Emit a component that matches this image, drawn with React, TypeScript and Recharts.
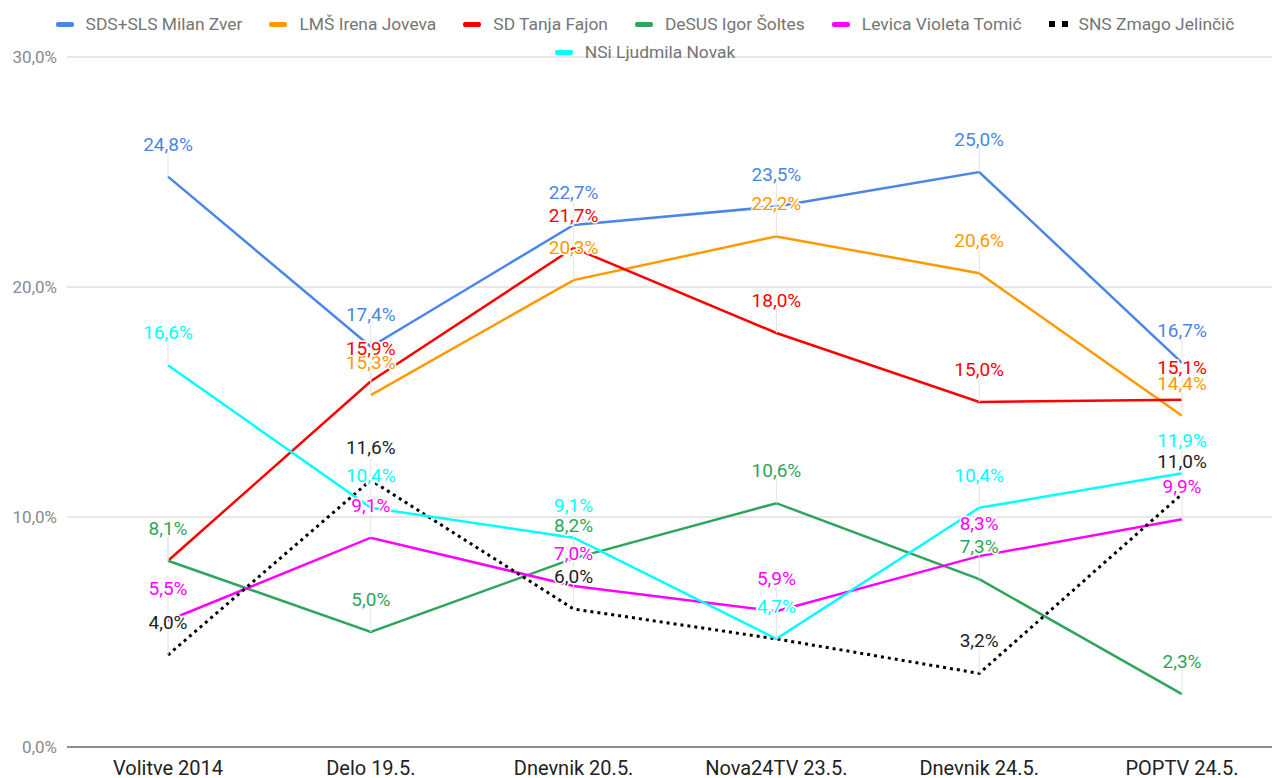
import React from 'react';
import { LineChart, Line, XAxis, YAxis, CartesianGrid, LabelList } from 'recharts';

const categories = ['Volitve 2014', 'Delo 19.5.', 'Dnevnik 20.5.', 'Nova24TV 23.5.', 'Dnevnik 24.5.', 'POPTV 24.5.'];
const sdsSls = [24.8, 17.4, 22.7, 23.5, 25.0, 16.7];
const lms = [null, 15.3, 20.3, 22.2, 20.6, 14.4];
const sd = [8.1, 15.9, 21.7, 18.0, 15.0, 15.1];
const desus = [8.1, 5.0, 8.2, 10.6, 7.3, 2.3];
const levica = [5.5, 9.1, 7.0, 5.9, 8.3, 9.9];
const sns = [4.0, 11.6, 6.0, 4.7, 3.2, 11.0];
const nsi = [16.6, 10.4, 9.1, 4.7, 10.4, 11.9];
const yTicks = [0, 10, 20, 30];

const series = [
  { key: 'sds', name: 'SDS+SLS Milan Zver', color: '#4a86e8', values: sdsSls },
  { key: 'lms', name: 'LMŠ Irena Joveva', color: '#ff9900', values: lms },
  { key: 'sd', name: 'SD Tanja Fajon', color: '#ff0000', values: sd },
  { key: 'desus', name: 'DeSUS Igor Šoltes', color: '#2ea55c', values: desus },
  { key: 'levica', name: 'Levica Violeta Tomić', color: '#ff00ff', values: levica },
  { key: 'sns', name: 'SNS Zmago Jelinčič', color: '#000000', values: sns, dotted: true },
  { key: 'nsi', name: 'NSi Ljudmila Novak', color: '#00ffff', values: nsi },
];

const data = categories.map((name, i) => {
  const row: any = { name };
  series.forEach((s) => {
    row[s.key] = s.values[i];
  });
  return row;
});

const FONT = 'Roboto, "Noto Sans", sans-serif';
const fmt = (v: number) => v.toFixed(1).replace('.', ',') + '%';

const pos = (props: any) => {
  const vb = props.viewBox || {};
  return { x: props.x ?? vb.x, y: props.y ?? vb.y };
};

// light grey stem from the label down to its point
const Stem = (props: any) => {
  const { x, y } = pos(props);
  if (props.value == null || x == null || y == null) return null;
  return <line x1={x} x2={x} y1={y - 24} y2={y} stroke="#e3e3e3" strokeWidth={1} />;
};

const makeLabel = (color: string) => (props: any) => {
  const { x, y } = pos(props);
  if (props.value == null || x == null || y == null) return null;
  return (
    <text
      x={x}
      y={y - 26}
      textAnchor="middle"
      fill={color === '#000000' ? '#222' : color}
      stroke="#fff"
      strokeWidth={3}
      paintOrder="stroke"
      style={{ fontFamily: FONT, fontSize: 19 }}
    >
      {fmt(Number(props.value))}
    </text>
  );
};

function LegendItem({ s }: { s: any }) {
  return (
    <div style={{ display: 'flex', alignItems: 'center' }}>
      {s.dotted ? (
        <div style={{ display: 'flex', width: 19, marginRight: 11 }}>
          <div style={{ width: 6, height: 6, background: '#000', marginRight: 7 }} />
          <div style={{ width: 6, height: 6, background: '#000' }} />
        </div>
      ) : (
        <div style={{ width: 18, height: 5, borderRadius: 2, background: s.color, marginRight: 12 }} />
      )}
      <span>{s.name}</span>
    </div>
  );
}

export default function App() {
  const rowStyle: React.CSSProperties = {
    display: 'flex',
    justifyContent: 'center',
    gap: 27,
    height: 28,
    alignItems: 'center',
  };
  return (
    <div
      style={{
        position: 'absolute',
        left: 0,
        top: 0,
        width: 1272,
        height: 778,
        overflow: 'hidden',
        background: '#fff',
        fontFamily: FONT,
      }}
    >
      <LineChart width={1284} height={778} data={data} margin={{ top: 57, right: 1, bottom: 0, left: 0 }}>
        <CartesianGrid vertical={false} stroke="#d0d0d0" />
        <XAxis
          dataKey="name"
          padding={{ left: 101, right: 101 }}
          height={31}
          axisLine={{ stroke: '#333' }}
          tickLine={false}
          tickSize={0}
          tickMargin={14}
          tick={{ fill: '#222', fontSize: 20, fontFamily: FONT }}
          interval={0}
        />
        <YAxis
          width={67}
          domain={[0, 30]}
          ticks={yTicks}
          axisLine={false}
          tickLine={false}
          tickSize={0}
          tickMargin={10}
          tickFormatter={fmt}
          tick={{ fill: '#8a8a8a', fontSize: 17, fontFamily: FONT }}
        />
        {series.map((s) => (
          <Line
            key={s.key}
            dataKey={s.key}
            name={s.name}
            stroke={s.color}
            strokeWidth={s.dotted ? 3 : 2.5}
            strokeDasharray={s.dotted ? '3 4' : undefined}
            dot={false}
            activeDot={false}
            isAnimationActive={false}
          >
            <LabelList dataKey={s.key} content={Stem} />
          </Line>
        ))}
        {series.map((s) => (
          <Line
            key={s.key + '-labels'}
            dataKey={s.key}
            stroke="none"
            dot={false}
            activeDot={false}
            legendType="none"
            isAnimationActive={false}
          >
            <LabelList dataKey={s.key} content={makeLabel(s.color)} />
          </Line>
        ))}
      </LineChart>
      <div
        style={{
          position: 'absolute',
          left: 45,
          top: 10,
          width: 1200,
          fontSize: 17.4,
          color: '#757575',
        }}
      >
        <div style={rowStyle}>
          {series.slice(0, 6).map((s) => (
            <LegendItem key={s.key} s={s} />
          ))}
        </div>
        <div style={rowStyle}>
          {series.slice(6).map((s) => (
            <LegendItem key={s.key} s={s} />
          ))}
        </div>
      </div>
    </div>
  );
}
